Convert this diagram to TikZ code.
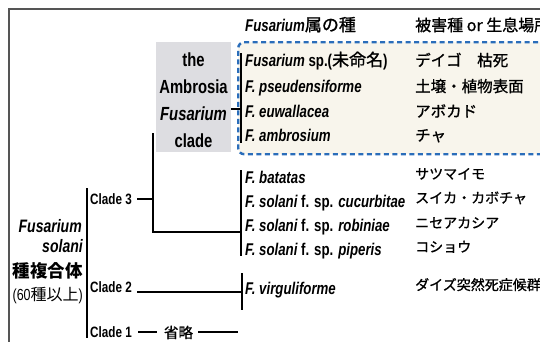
\documentclass[tikz,border=0pt]{standalone}
\usepackage{fontspec}
\setmainfont{Liberation Sans}[FakeStretch=0.78]
\newfontfamily\jp{Noto Sans CJK JP}
\newfontfamily\jpm{Noto Sans CJK JP}[FakeBold=1]
\newcommand{\bi}[1]{{\bfseries\itshape #1}}
\definecolor{dashblue}{HTML}{2A6DBA}
\definecolor{boxcream}{HTML}{F8F5EC}
\definecolor{boxgray}{HTML}{DDDDE1}
\definecolor{framegray}{HTML}{555555}
\begin{document}
\begin{tikzpicture}[x=1pt,y=-1pt,
  tree/.style={line width=1.8pt, black},
  sptxt/.style={anchor=base west, inner sep=0pt, font=\fontsize{17}{18}\selectfont\bfseries},
  jptxt/.style={anchor=base west, inner sep=0pt, font=\fontsize{15.5}{18}\selectfont\jpm},
  jplow/.style={anchor=base west, inner sep=0pt, font=\fontsize{14}{18}\selectfont\jpm},
  cladetxt/.style={anchor=base west, inner sep=0pt, font=\fontsize{15}{16}\selectfont\bfseries},
  lefttxt/.style={anchor=base east, inner sep=0pt},
]
\useasboundingbox (0,0) rectangle (540,341);
\clip (0,0) rectangle (540,341);
% frame
\draw[framegray, line width=1.2pt] (9,345) -- (9,9) -- (545,9);

% header
\node[anchor=base west, inner sep=0pt, font=\fontsize{17}{18}\selectfont] (hdrA) at (245,31) {\bi{Fusarium}{\jpm 属の種}};
\node[anchor=base west, inner sep=0pt, font=\fontsize{16}{18}\selectfont\jpm] (hdrB) at (415,31) {被害種 or 生息場所};

% dashed box
\node[draw=dashblue, fill=boxcream, line width=2.4pt, dash pattern=on 5pt off 3.5pt,
      rounded corners=6pt, anchor=north west, minimum width=340pt, minimum height=112pt,
      inner sep=0pt] (dbox) at (237,41) {};

% gray clade box
\node[fill=boxgray, anchor=north west, minimum width=75pt, minimum height=110pt, inner sep=0pt] (amb) at (156,42) {};
\node[align=center, inner sep=0pt, font=\fontsize{19}{26.7}\selectfont\bfseries, anchor=base] (ambt) at (193.5,147)
  {the\\Ambrosia\\\itshape Fusarium\\clade};

% upper species
\node[sptxt] (s1) at (245,66) {\itshape Fusarium\upshape\ sp.({\jpm\mdseries 未命名})};
\node[sptxt] (s2) at (245,92) {\itshape F. pseudensiforme};
\node[sptxt] (s3) at (245,117) {\itshape F. euwallacea};
\node[sptxt] (s4) at (245,141) {\itshape F. ambrosium};
\node[jptxt] (h1) at (415,66) {デイゴ　枯死};
\node[jptxt] (h2) at (415,92) {土壌・植物表面};
\node[jptxt] (h3) at (415,117) {アボカド};
\node[jptxt] (h4) at (415,141) {チャ};

% lower species
\node[sptxt] (s5) at (245,183) {\itshape F. batatas};
\node[sptxt] (s6) at (245,207) {\itshape F. solani\upshape\ f. sp. \itshape cucurbitae};
\node[sptxt] (s7) at (245,231) {\itshape F. solani\upshape\ f. sp. \itshape robiniae};
\node[sptxt] (s8) at (245,255) {\itshape F. solani\upshape\ f. sp. \itshape piperis};
\node[sptxt] (s9) at (245,294) {\itshape F. virguliforme};
\node[jplow] (h5) at (415,179) {サツマイモ};
\node[jplow] (h6) at (415,203) {スイカ・カボチャ};
\node[jplow] (h7) at (415,228) {ニセアカシア};
\node[jplow] (h8) at (415,252) {コショウ};
\node[jplow] (h9) at (415,290) {ダイズ突然死症候群};

% clade labels
\node[cladetxt] (c3) at (90,204) {Clade 3};
\node[cladetxt] (c2) at (90,292) {Clade 2};
\node[cladetxt] (c1) at (90,337) {Clade 1};
\node[anchor=base, inner sep=0pt, font=\fontsize{14.5}{16}\selectfont\jpm] (omit) at (178.5,338) {省略};

% left label
\node[lefttxt, font=\fontsize{18}{18}\selectfont\bfseries\itshape] (fs1) at (82,232) {Fusarium};
\node[lefttxt, font=\fontsize{18}{18}\selectfont\bfseries\itshape] (fs2) at (83,252) {solani};
\node[lefttxt, font=\fontsize{17.5}{18}\selectfont\jp\bfseries] (fs3) at (83,277) {種複合体};
\node[lefttxt, font=\fontsize{16}{18}\selectfont] (fs4) at (83,300) {(60{\jp 種以上})};

% tree coordinates
\coordinate (ambtick) at (241,109);
\coordinate (b1top) at (241,53);
\coordinate (b1bot) at (241,143);
\coordinate (v3top) at (153,133);
\coordinate (v3mid) at (153,199);
\coordinate (v3bot) at (153,232);
\coordinate (b2mid) at (241,232);
\coordinate (b2top) at (241,170);
\coordinate (b2bot) at (241,256);
\coordinate (c3e) at (137,199);
\coordinate (c2e) at (137,292);
\coordinate (c2j) at (242,292);
\coordinate (b3top) at (242,273);
\coordinate (b3bot) at (242,310);
\coordinate (c1a) at (138,332);
\coordinate (c1b) at (157,332);
\coordinate (c1c) at (198,332);
\coordinate (c1d) at (238,332);
\coordinate (lbtop) at (87,188);
\coordinate (lbbot) at (87,338);

% tree lines
\draw[tree] (amb.east |- ambtick) -- (ambtick);
\draw[tree] (b1top) -- (b1bot);
\draw[tree] (v3top) -- (v3bot) -- (b2mid);
\draw[tree] (c3e) -- (v3mid);
\draw[tree] (b2top) -- (b2bot);
\draw[tree] (c2e) -- (c2j);
\draw[tree] (b3top) -- (b3bot);
\draw[tree] (c1a) -- (c1b);
\draw[tree] (c1c) -- (c1d);
\draw[line width=1.4pt] (lbtop) -- (lbbot);
\end{tikzpicture}
\end{document}
